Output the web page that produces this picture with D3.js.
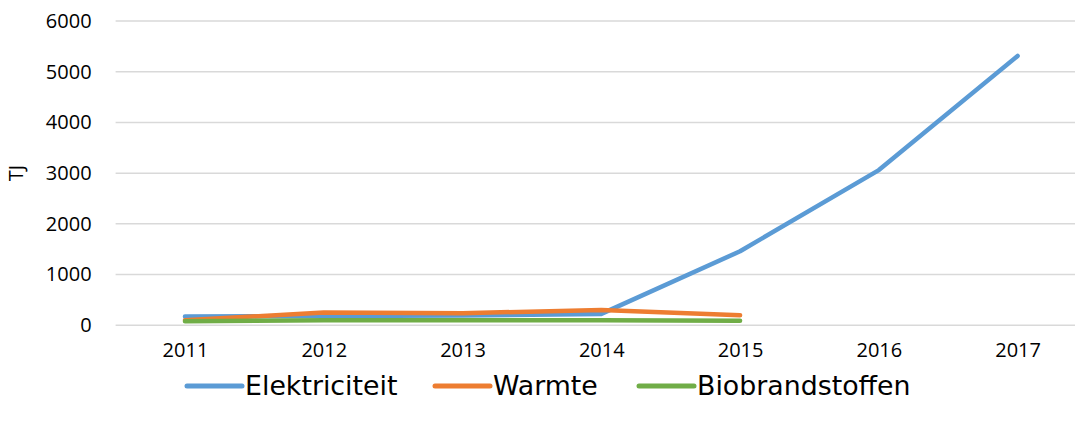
<!DOCTYPE html>
<html>
<head>
<meta charset="utf-8">
<script src="https://cdn.jsdelivr.net/npm/d3@7"></script>
<style>
  body { margin: 0; background: #fff; }
  svg { display: block; }
</style>
</head>
<body>
<div id="chart"></div>
<script>
const years = ["2011", "2012", "2013", "2014", "2015", "2016", "2017"];
const elektriciteit = [175, 185, 195, 225, 1460, 3060, 5310];
const warmte = [100, 250, 240, 300, 200];
const biobrandstoffen = [80, 100, 100, 100, 90];
const yTicks = [0, 1000, 2000, 3000, 4000, 5000, 6000];

const series = [
  { name: "Elektriciteit", values: elektriciteit, color: "#5B9BD5" },
  { name: "Warmte", values: warmte, color: "#ED7D31" },
  { name: "Biobrandstoffen", values: biobrandstoffen, color: "#70AD47" }
];

const width = 1075,
  height = 423;
const margin = { top: 21, left: 115.6, bottomY: 325.3, right: 1087 };
const tickFont = "'Open Sans', 'Noto Sans', sans-serif";

const svg = d3.select("#chart").append("svg")
  .attr("width", width)
  .attr("height", height);

const x = d3.scalePoint()
  .domain(years)
  .range([margin.left, margin.right])
  .padding(0.5);

const y = d3.scaleLinear()
  .domain([0, 6000])
  .range([margin.bottomY, margin.top]);

// gridlines
svg.append("g")
  .selectAll("line")
  .data(yTicks)
  .join("line")
  .attr("x1", margin.left)
  .attr("x2", margin.right)
  .attr("y1", d => y(d))
  .attr("y2", d => y(d))
  .attr("stroke", "#D9D9D9")
  .attr("stroke-width", 1.5);

// y axis labels
const yAxis = svg.append("g")
  .attr("transform", `translate(${margin.left - 24},0)`)
  .call(d3.axisLeft(y).tickValues(yTicks).tickFormat(d3.format("d")).tickSize(0).tickPadding(0));
yAxis.select(".domain").remove();
yAxis.selectAll("text")
  .attr("font-size", 20)
  .attr("fill", "#000")
  .style("font-family", tickFont);

// x axis labels
const xAxis = svg.append("g")
  .attr("transform", `translate(0,${margin.bottomY + 17})`)
  .call(d3.axisBottom(x).tickSize(0).tickPadding(0));
xAxis.select(".domain").remove();
xAxis.selectAll("text")
  .attr("font-size", 20)
  .attr("fill", "#000")
  .style("font-family", tickFont);

// y title
svg.append("text")
  .attr("transform", `translate(23,${y(3000)}) rotate(-90)`)
  .attr("text-anchor", "middle")
  .attr("font-size", 20)
  .style("font-family", tickFont)
  .text("TJ");

const line = d3.line()
  .x((d, i) => x(years[i]))
  .y(d => y(d));

svg.append("g")
  .selectAll("path")
  .data(series)
  .join("path")
  .attr("d", d => line(d.values))
  .attr("fill", "none")
  .attr("stroke", d => d.color)
  .attr("stroke-width", 4.5)
  .attr("stroke-linejoin", "round")
  .attr("stroke-linecap", "round");

// legend
const legendX = [187, 435, 639];
const legend = svg.append("g")
  .selectAll("g")
  .data(series)
  .join("g")
  .attr("transform", (d, i) => `translate(${legendX[i]},386)`);

legend.append("line")
  .attr("x1", 0)
  .attr("x2", 55)
  .attr("stroke", d => d.color)
  .attr("stroke-width", 5)
  .attr("stroke-linecap", "round");

legend.append("text")
  .attr("x", 58)
  .attr("dy", "0.35em")
  .attr("font-size", 26.8)
  .style("font-family", "'DejaVu Sans', Verdana, sans-serif")
  .text(d => d.name);
</script>
</body>
</html>
